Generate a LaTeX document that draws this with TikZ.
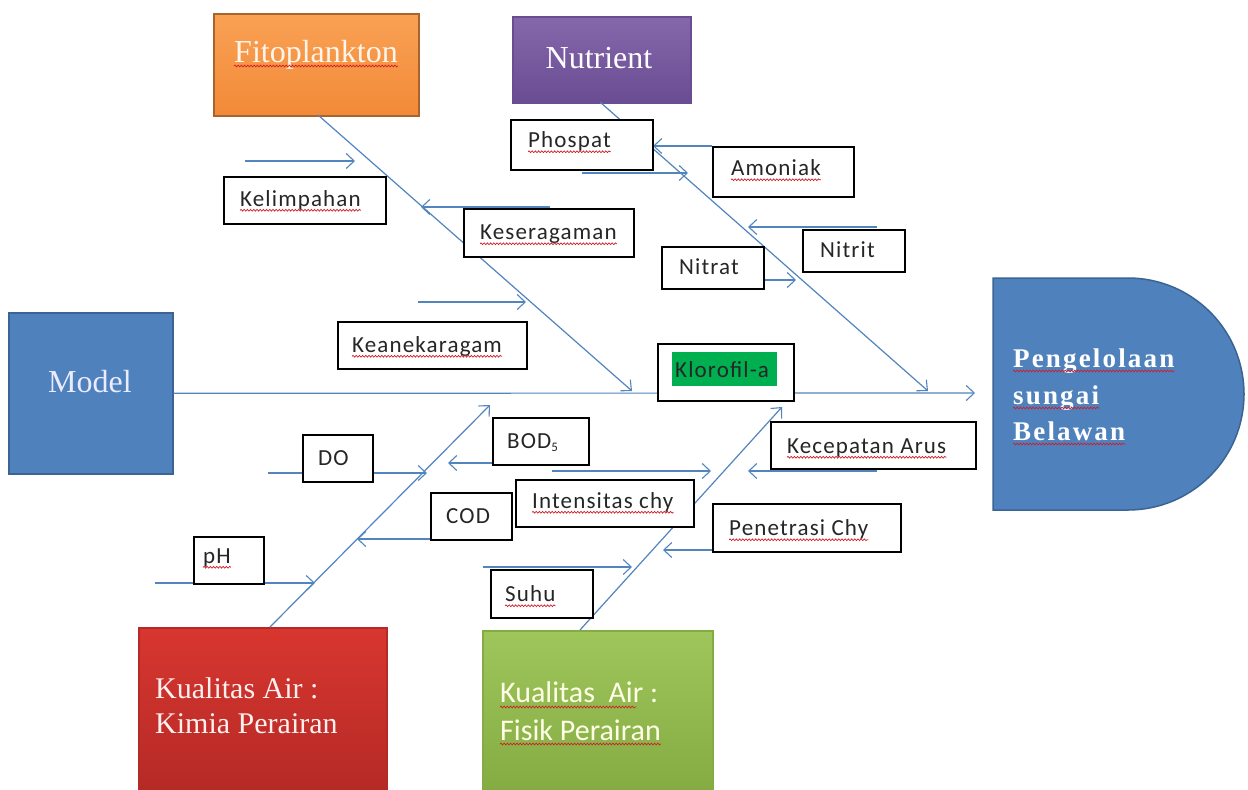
\documentclass[tikz,border=0pt]{standalone}
\usepackage{fontspec}
\setmainfont{Liberation Serif}
\newfontfamily\calfont{Carlito}[LetterSpace=5]
\newfontfamily\calbig{Carlito}
\newfontfamily\dfont{Liberation Serif}[LetterSpace=8]
\usetikzlibrary{arrows.meta,decorations.pathmorphing}
\definecolor{lineblue}{HTML}{5284BE}
\definecolor{orangeL}{HTML}{F9A154}
\definecolor{orangeD}{HTML}{F28A38}
\definecolor{orangeB}{HTML}{A8642E}
\definecolor{purpL}{HTML}{8567AC}
\definecolor{purpD}{HTML}{6A4C92}
\definecolor{blueF}{HTML}{4F81BD}
\definecolor{blueB}{HTML}{3B6494}
\definecolor{redL}{HTML}{D8362F}
\definecolor{redD}{HTML}{B52A26}
\definecolor{greenL}{HTML}{9FC65B}
\definecolor{greenD}{HTML}{84AC43}
\definecolor{klgreen}{HTML}{00B050}
\definecolor{spellred}{HTML}{D0202A}
\newcommand\squig[1]{\draw[spell] ([yshift=-4pt]#1.base west) -- ([yshift=-4pt]#1.base east);}
\begin{document}
\begin{tikzpicture}[x=1pt,y=-1pt,
  conn/.style={draw=lineblue, line width=1.2pt, -{Straight Barb[length=8pt,width=15pt,line width=1.1pt]}},
  lbox/.style={draw=black, line width=1.5pt, fill=white, inner sep=0pt, anchor=north west},
  lbl/.style={font=\calfont\fontsize{23}{27}\selectfont, inner sep=0pt, anchor=base west, text=black!85},
  bigbox/.style={line width=1.5pt, inner sep=0pt, anchor=north west},
  serifbig/.style={font=\fontsize{32}{38}\selectfont, inner sep=0pt},
  spell/.style={draw=spellred, line width=0.7pt, decorate, decoration={snake, amplitude=0.9pt, segment length=3.2pt}},
]
\useasboundingbox[fill=white] (0,0) rectangle (1248,790);

% ---------- big category boxes ----------
\node[bigbox, draw=orangeB, top color=orangeL, bottom color=orangeD, minimum width=205pt, minimum height=102pt] (fito) at (213,13) {};
\node[bigbox, draw=purpD, top color=purpL, bottom color=purpD, minimum width=178pt, minimum height=86pt] (nut) at (512,16) {};
\node[bigbox, draw=blueB, fill=blueF, minimum width=164pt, minimum height=161pt] (model) at (8,312) {};
\node[bigbox, draw=redD, top color=redL, bottom color=redD, minimum width=248pt, minimum height=163pt] (kimia) at (138,627) {};
\node[bigbox, draw=greenD, top color=greenL, bottom color=greenD, minimum width=230pt, minimum height=160pt] (fisik) at (482,630) {};
\path[draw=blueB, line width=1.5pt, fill=blueF] (993,278) -- (1128,278) arc[start angle=-90, end angle=90, radius=116] -- (993,510) -- cycle;
\coordinate (dshape) at (993,394);

% ---------- bones ----------
\coordinate (fitoS) at (318,115);  \coordinate (fitoE) at (632,391);
\coordinate (nutS)  at (600,102);  \coordinate (nutE)  at (928,391);
\coordinate (kimS)  at (270,627);  \coordinate (kimE)  at (490,405);
\coordinate (fisS)  at (580,630);  \coordinate (fisE)  at (782,407);
\coordinate (axE) at (975,393);
\draw[conn] (model.east) -- (axE);
\draw[conn] (fitoS) -- (fitoE);
\draw[conn] (nutS) -- (nutE);
\draw[conn] (kimS) -- (kimE);
\draw[conn] (fisS) -- (fisE);

% ---------- sub arrows ----------
\coordinate (a1s) at (245,161); \coordinate (a1e) at (355,161);
\coordinate (a2s) at (550,207); \coordinate (a2e) at (421,207);
\coordinate (a3s) at (418,302); \coordinate (a3e) at (526,302);
\coordinate (a4s) at (712,146); \coordinate (a4e) at (653,146);
\coordinate (a5s) at (582,173); \coordinate (a5e) at (688,173);
\coordinate (a6s) at (877,227); \coordinate (a6e) at (748,227);
\coordinate (a7s) at (763,280); \coordinate (a7e) at (796,280);
\coordinate (a8s) at (268,473); \coordinate (a8e) at (427,473);
\coordinate (a9s) at (492,463); \coordinate (a9e) at (448,463);
\coordinate (a10s) at (430,539); \coordinate (a10e) at (357,539);
\coordinate (a11s) at (155,583); \coordinate (a11e) at (315,583);
\coordinate (a12s) at (552,471); \coordinate (a12e) at (711,471);
\coordinate (a13s) at (877,471); \coordinate (a13e) at (748,471);
\coordinate (a14s) at (712,550); \coordinate (a14e) at (663,550);
\coordinate (a15s) at (483,567); \coordinate (a15e) at (632,567);
\foreach \i in {1,...,15} {\draw[conn] (a\i s) -- (a\i e);}

% ---------- label boxes ----------
\node[lbox, minimum width=162pt, minimum height=47pt] (kel) at (223,176) {};
\node[lbox, minimum width=170pt, minimum height=48pt] (kes) at (463,208) {};
\node[lbox, minimum width=189pt, minimum height=47pt] (kea) at (337,321) {};
\node[lbox, minimum width=142pt, minimum height=50pt] (pho) at (510,119) {};
\node[lbox, minimum width=141pt, minimum height=50pt] (amo) at (712,146) {};
\node[lbox, minimum width=102pt, minimum height=42pt] (nitrit) at (802,229) {};
\node[lbox, minimum width=102pt, minimum height=42pt] (nitrat) at (661,246) {};
\node[lbox, minimum width=136pt, minimum height=57pt] (klo) at (657,343) {};
\node[lbox, minimum width=70pt, minimum height=47pt] (do) at (302,434) {};
\node[lbox, minimum width=96pt, minimum height=47pt] (bod) at (492,417) {};
\node[lbox, minimum width=81pt, minimum height=47pt] (cod) at (430,492) {};
\node[lbox, minimum width=70pt, minimum height=47pt] (ph) at (193,536) {};
\node[lbox, minimum width=205pt, minimum height=47pt] (kec) at (770,421) {};
\node[lbox, minimum width=178pt, minimum height=47pt] (int) at (515,479) {};
\node[lbox, minimum width=188pt, minimum height=48pt] (pen) at (712,503) {};
\node[lbox, minimum width=102pt, minimum height=48pt] (suhu) at (490,569) {};
\node[fill=klgreen, inner sep=0pt, minimum width=105pt, minimum height=34pt, anchor=north west] (klhl) at (672,352) {};

% ---------- label texts ----------
\node[lbl] (tkel) at ([xshift=17pt,yshift=-6pt]kel.west) {Kelimpahan};
\node[lbl] (tkes) at ([xshift=17pt,yshift=-7pt]kes.west) {Keseragaman};
\node[lbl] (tkea) at ([xshift=15pt,yshift=-7pt]kea.west) {Keanekaragam};
\node[lbl] (tpho) at ([xshift=18pt,yshift=-3pt]pho.west) {Phospat};
\node[lbl] (tamo) at ([xshift=19pt,yshift=-4pt]amo.west) {Amoniak};
\node[lbl] (tnitrit) at ([xshift=18pt,yshift=-7pt]nitrit.west) {Nitrit};
\node[lbl] (tnitrat) at ([xshift=18pt,yshift=-7pt]nitrat.west) {Nitrat};
\node[lbl] (tklo) at ([xshift=3pt,yshift=-8pt]klhl.west) {Klorofil-a};
\node[lbl] (tdo) at ([xshift=16pt,yshift=-7pt]do.west) {DO};
\node[lbl] (tbod) at ([xshift=15pt,yshift=-7pt]bod.west) {BOD\raisebox{-0.25ex}{\fontsize{13}{14}\selectfont 5}};
\node[lbl] (tcod) at ([xshift=16pt,yshift=-7pt]cod.west) {COD};
\node[lbl] (tph) at ([xshift=10pt,yshift=-3pt]ph.west) {pH};
\node[lbl] (tkec) at ([xshift=17pt,yshift=-8pt]kec.west) {Kecepatan Arus};
\node[lbl] (tint) at ([xshift=17pt,yshift=-5pt]int.west) {Intensitas chy};
\node[lbl] (tpen) at ([xshift=17pt,yshift=-8pt]pen.west) {Penetrasi Chy};
\node[lbl] (tsuhu) at ([xshift=15pt,yshift=-8pt]suhu.west) {Suhu};

% ---------- big texts ----------
\node[serifbig, anchor=base, text=orange!8] (tfito) at (316,62) {Fitoplankton};
\node[serifbig, anchor=base, text=white] (tnut) at (599,68) {Nutrient};
\node[serifbig, anchor=base, text=white!92!blue] (tmodel) at (90,392) {Model};
\node[font=\fontsize{30}{36}\selectfont, inner sep=0pt, anchor=base west, text=white!94!red] (tkim1) at (155,698) {Kualitas Air :};
\node[font=\fontsize{30}{36}\selectfont, inner sep=0pt, anchor=base west, text=white!94!red] (tkim2) at (155,733) {Kimia Perairan};
\node[font=\calbig\fontsize{30}{36}\selectfont, inner sep=0pt, anchor=base west, text=white!90!yellow] (tfis1) at (500,702) {Kualitas\ \ Air :};
\node[font=\calbig\fontsize{30}{36}\selectfont, inner sep=0pt, anchor=base west, text=white!90!yellow] (tfis2) at (500,740) {Fisik Perairan};
\node[font=\dfont\bfseries\fontsize{27}{32}\selectfont, inner sep=0pt, anchor=base west, text=white] (tpen1) at (1013,367) {Pengelolaan};
\node[font=\dfont\bfseries\fontsize{27}{32}\selectfont, inner sep=0pt, anchor=base west, text=white] (tpen2) at (1013,404) {sungai};
\node[font=\dfont\bfseries\fontsize{27}{32}\selectfont, inner sep=0pt, anchor=base west, text=white] (tpen3) at (1013,440) {Belawan};

% ---------- spelling underlines ----------
\squig{tfito}
\squig{tkel}\squig{tkes}\squig{tkea}\squig{tpho}\squig{tamo}
\squig{tph}\squig{tkec}\squig{tint}\squig{tpen}\squig{tsuhu}
\coordinate (fisAirEnd) at ([xshift=-22pt]tfis1.base east);
\draw[spell] ([yshift=-5pt]tfis1.base west) -- ([yshift=-5pt]fisAirEnd);
\squig{tfis2}
\squig{tpen1}\squig{tpen2}\squig{tpen3}
\end{tikzpicture}
\end{document}
